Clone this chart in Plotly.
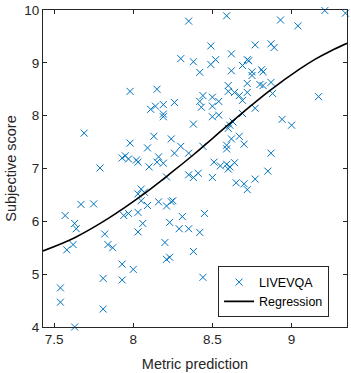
import plotly.graph_objects as go

# Scatter data (metric prediction vs subjective score)
metric_pred = [
    7.98, 7.69, 7.98, 7.93, 7.95, 7.97, 8.02, 8.03, 7.79, 8.09, 8.10, 8.11,
    8.35, 8.59, 8.49, 8.77, 8.30, 8.38, 8.52, 8.49, 8.62, 8.72, 8.73, 8.69,
    8.42, 8.62, 8.75, 8.75, 8.15, 8.60, 8.60, 8.64, 8.67, 8.72, 8.72, 8.69,
    8.44, 8.42, 8.50, 8.54, 8.43, 8.50, 8.26, 8.19, 8.14, 8.19, 8.19, 8.50,
    8.54, 8.77, 8.69, 8.38, 8.61, 8.60, 8.63, 8.13, 8.24, 8.62, 8.67, 8.70,
    8.59, 8.59, 8.30, 8.44, 8.26, 8.35, 8.16, 8.15, 8.19, 8.51, 8.55, 8.59,
    8.61, 8.64, 8.60,
    9.21, 9.34, 8.93, 9.04, 8.87, 8.89, 8.81, 8.82, 8.80, 8.82, 8.87, 8.88,
    9.17, 8.94, 9.00, 8.87, 8.85,
    8.05, 8.07, 8.03, 8.05, 8.09, 8.03, 8.06, 8.03, 7.67, 7.75, 7.57, 7.63,
    7.64, 7.94, 7.97, 7.82, 7.84, 7.87, 7.58, 7.62, 7.93, 8.00, 7.81, 7.93,
    7.54, 7.54, 7.81, 7.63,
    8.21, 8.35, 8.41, 8.38, 8.50, 8.65, 8.70, 8.72, 8.77, 8.16, 8.21, 8.24,
    8.25, 8.31, 8.45, 8.23, 8.29, 8.35, 8.42, 8.20, 8.38, 8.21, 8.23, 8.44,
]
subjective = [
    8.46, 7.67, 7.48, 7.20, 7.24, 7.18, 7.16, 7.12, 7.01, 7.39, 7.03, 8.12,
    9.79, 9.89, 9.32, 9.34, 9.08, 9.02, 9.06, 8.97, 9.17, 9.06, 9.04, 8.95,
    8.82, 8.85, 8.83, 8.76, 8.50, 8.57, 8.46, 8.44, 8.38, 8.61, 8.44, 8.29,
    8.38, 8.27, 8.35, 8.27, 8.16, 8.18, 8.25, 8.21, 8.18, 8.03, 7.98, 7.98,
    8.01, 8.14, 8.04, 7.84, 7.82, 7.76, 7.88, 7.61, 7.56, 7.56, 7.61, 7.46,
    7.44, 7.37, 7.42, 7.42, 7.29, 7.29, 7.22, 7.12, 7.10, 7.12, 7.05, 7.08,
    7.03, 7.11, 6.99,
    9.99, 9.94, 9.81, 9.70, 9.36, 9.29, 8.87, 8.83, 8.59, 8.57, 8.63, 8.42,
    8.36, 7.93, 7.82, 7.29, 6.95,
    6.61, 6.55, 6.52, 6.39, 6.30, 6.17, 5.96, 5.80, 6.32, 6.33, 6.11, 5.96,
    5.86, 6.11, 6.15, 5.76, 5.56, 5.50, 5.46, 5.56, 5.19, 5.09, 4.92, 4.89,
    4.74, 4.47, 4.34, 4.00,
    6.84, 6.88, 6.91, 6.83, 6.83, 6.73, 6.71, 6.60, 6.80, 6.37, 6.29, 6.37,
    6.39, 6.09, 6.15, 5.98, 5.86, 5.86, 5.79, 5.60, 5.43, 5.28, 5.32, 4.94,
]

# Regression curve
reg_x = [7.43, 7.63, 7.84, 8.05, 8.24, 8.38, 8.59, 8.74, 8.86, 9.05, 9.15, 9.25, 9.35]
reg_y = [5.44, 5.69, 6.05, 6.48, 6.92, 7.26, 7.80, 8.18, 8.47, 8.88, 9.07, 9.23, 9.37]

x_ticks = [7.5, 8, 8.5, 9]
x_tick_text = ["7.5", "8", "8.5", "9"]
y_ticks = [4, 5, 6, 7, 8, 9, 10]
y_tick_text = ["4", "5", "6", "7", "8", "9", "10"]

fig = go.Figure()
fig.add_trace(go.Scatter(
    x=metric_pred, y=subjective, mode="markers", name="LIVEVQA",
    marker=dict(symbol="x-thin-open", size=7, color="#0072BD",
                line=dict(width=1, color="#0072BD")),
    cliponaxis=False,
))
fig.add_trace(go.Scatter(
    x=reg_x, y=reg_y, mode="lines", name="Regression",
    line=dict(color="black", width=1.6, shape="spline", smoothing=1.0),
))

axis_common = dict(
    showline=True, linecolor="#262626", linewidth=1, mirror="ticks",
    ticks="inside", ticklen=4, tickcolor="#262626", showgrid=False,
    zeroline=False, tickfont=dict(family="Liberation Sans, Arial", size=13.5, color="#262626"),
)
fig.update_xaxes(range=[7.43, 9.35], tickvals=x_ticks, ticktext=x_tick_text,
                 title=dict(text="Metric prediction", standoff=12,
                            font=dict(family="Liberation Sans, Arial", size=14.5, color="#262626")),
                 **axis_common)
fig.update_yaxes(range=[4, 10], tickvals=y_ticks, ticktext=y_tick_text,
                 title=dict(text="Subjective score", standoff=4,
                            font=dict(family="Liberation Sans, Arial", size=14.5, color="#262626")),
                 **axis_common)

fig.update_layout(
    width=351, height=373,
    margin=dict(l=43, r=3, t=8, b=46),
    plot_bgcolor="white", paper_bgcolor="white",
    legend=dict(x=0.941, y=0.03, xanchor="right", yanchor="bottom",
                bordercolor="#262626", borderwidth=1, bgcolor="white",
                font=dict(family="Liberation Sans, Arial", size=12.5, color="#000000"),
                tracegroupgap=0, itemwidth=30),
    showlegend=True,
)

fig.write_html("out.html")
